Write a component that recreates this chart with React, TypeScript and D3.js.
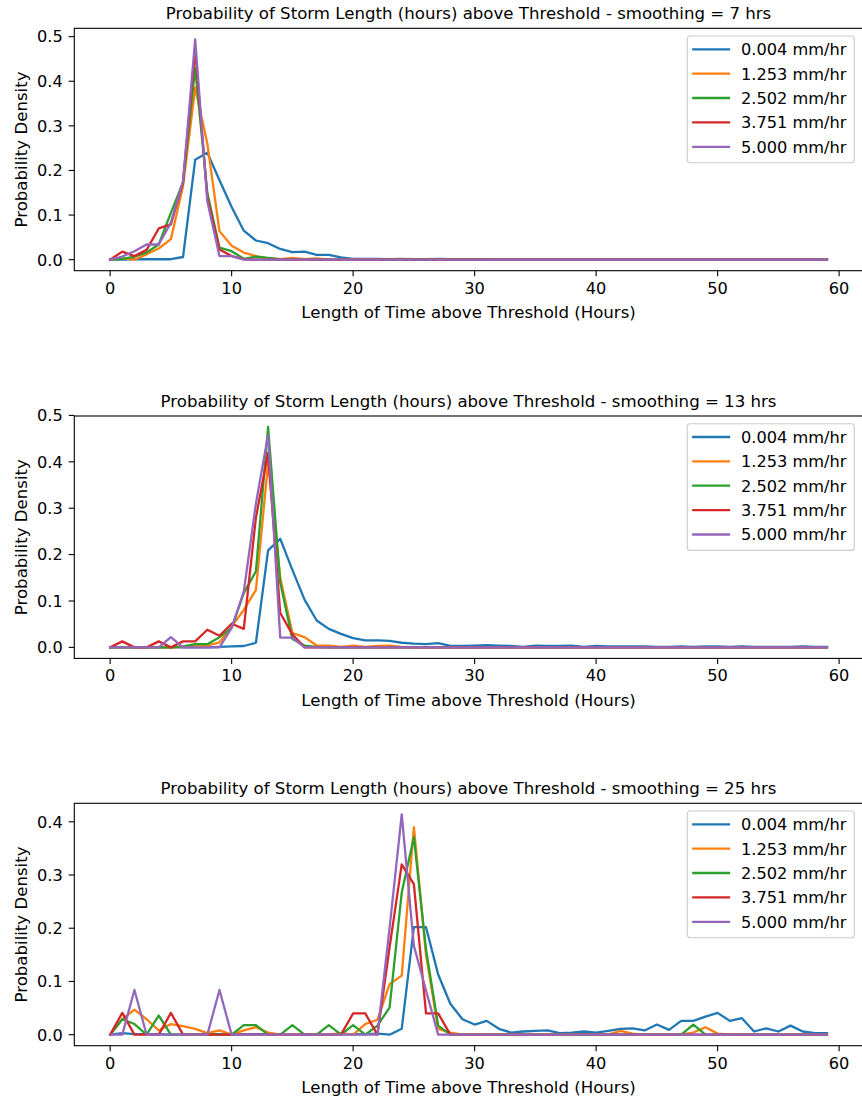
import React from 'react';
import * as d3 from 'd3';

// ---------- data ----------
const hours = d3.range(0, 60);
const thresholdLabels = ['0.004 mm/hr', '1.253 mm/hr', '2.502 mm/hr', '3.751 mm/hr', '5.000 mm/hr'];
const seriesColors = ['#1f77b4', '#ff7f0e', '#2ca02c', '#d62728', '#9467bd'];
const smoothingHours = [7, 13, 25];
const xTicks = [0, 10, 20, 30, 40, 50, 60];
const yTicksA = [0, 0.1, 0.2, 0.3, 0.4, 0.5];
const yTicksB = [0, 0.1, 0.2, 0.3, 0.4, 0.5];
const yTicksC = [0, 0.1, 0.2, 0.3, 0.4];

// smoothing = 7 hrs
const s7_004 = [
  0, 0, 0.001, 0.001, 0.001, 0.001, 0.006, 0.224, 0.24, 0.178,
  0.118, 0.065, 0.043, 0.037, 0.024, 0.017, 0.018, 0.011, 0.011, 0.005,
  0.002, 0.002, 0.002, 0.001, 0.002, 0.001, 0.001, 0.002, 0.001, 0.001,
  0.001, 0.001, 0, 0, 0, 0, 0, 0, 0, 0,
  0, 0, 0, 0, 0, 0, 0, 0, 0, 0,
  0, 0, 0, 0, 0, 0, 0, 0, 0, 0,
];
const s7_1253 = [
  0, 0.003, 0, 0.012, 0.025, 0.046, 0.165, 0.386, 0.26, 0.064,
  0.031, 0.016, 0.008, 0.003, 0.001, 0.004, 0.001, 0.003, 0, 0,
  0, 0, 0, 0, 0, 0, 0, 0, 0, 0,
  0, 0, 0, 0, 0, 0, 0, 0, 0, 0,
  0, 0, 0, 0, 0, 0, 0, 0, 0, 0,
  0, 0, 0, 0, 0, 0, 0, 0, 0, 0,
];
const s7_2502 = [
  0, 0.002, 0.007, 0.016, 0.034, 0.105, 0.173, 0.43, 0.15, 0.027,
  0.019, 0.002, 0.007, 0.004, 0.001, 0, 0, 0, 0, 0,
  0, 0, 0, 0, 0, 0, 0, 0, 0, 0,
  0, 0, 0, 0, 0, 0, 0, 0, 0, 0,
  0, 0, 0, 0, 0, 0, 0, 0, 0, 0,
  0, 0, 0, 0, 0, 0, 0, 0, 0, 0,
];
const s7_3751 = [
  0, 0.018, 0.008, 0.022, 0.07, 0.079, 0.173, 0.47, 0.14, 0.023,
  0.008, 0.001, 0, 0, 0, 0, 0, 0, 0, 0,
  0, 0, 0, 0, 0, 0, 0, 0, 0, 0,
  0, 0, 0, 0, 0, 0, 0, 0, 0, 0,
  0, 0, 0, 0, 0, 0, 0, 0, 0, 0,
  0, 0, 0, 0, 0, 0, 0, 0, 0, 0,
];
const s7_5000 = [
  0, 0.007, 0.019, 0.034, 0.034, 0.083, 0.176, 0.494, 0.131, 0.008,
  0.008, 0, 0, 0, 0, 0, 0, 0, 0, 0,
  0, 0, 0, 0, 0, 0, 0, 0, 0, 0,
  0, 0, 0, 0, 0, 0, 0, 0, 0, 0,
  0, 0, 0, 0, 0, 0, 0, 0, 0, 0,
  0, 0, 0, 0, 0, 0, 0, 0, 0, 0,
];

// smoothing = 13 hrs
const s13_004 = [
  0, 0, 0, 0, 0, 0, 0, 0, 0, 0.001,
  0.002, 0.003, 0.01, 0.209, 0.234, 0.167, 0.103, 0.058, 0.04, 0.029,
  0.02, 0.015, 0.015, 0.014, 0.01, 0.008, 0.007, 0.009, 0.003, 0.003,
  0.004, 0.005, 0.004, 0.003, 0.001, 0.004, 0.003, 0.003, 0.004, 0.001,
  0.003, 0.002, 0.002, 0.002, 0.002, 0.001, 0.001, 0.002, 0.001, 0.002,
  0.002, 0.001, 0.002, 0.001, 0.001, 0.001, 0.001, 0.002, 0.001, 0.001,
];
const s13_1253 = [
  0, 0, 0, 0, 0, 0, 0.001, 0.003, 0.004, 0.011,
  0.045, 0.081, 0.124, 0.397, 0.15, 0.031, 0.022, 0.004, 0.004, 0.001,
  0.004, 0.001, 0.003, 0.004, 0.001, 0, 0, 0, 0, 0,
  0, 0, 0, 0, 0, 0, 0, 0, 0, 0,
  0, 0, 0, 0, 0, 0, 0, 0, 0, 0,
  0, 0, 0, 0, 0, 0, 0, 0, 0, 0,
];
const s13_2502 = [
  0, 0, 0, 0, 0, 0, 0.002, 0.007, 0.007, 0.022,
  0.042, 0.117, 0.164, 0.475, 0.14, 0.018, 0.004, 0.001, 0, 0,
  0, 0, 0, 0, 0, 0, 0, 0, 0, 0,
  0, 0, 0, 0, 0, 0, 0, 0, 0, 0,
  0, 0, 0, 0, 0, 0, 0, 0, 0, 0,
  0, 0, 0, 0, 0, 0, 0, 0, 0, 0,
];
const s13_3751 = [
  0, 0.013, 0, 0, 0.013, 0, 0.013, 0.013, 0.038, 0.025,
  0.051, 0.04, 0.28, 0.419, 0.074, 0.028, 0, 0, 0, 0,
  0, 0, 0, 0, 0, 0, 0, 0, 0, 0,
  0, 0, 0, 0, 0, 0, 0, 0, 0, 0,
  0, 0, 0, 0, 0, 0, 0, 0, 0, 0,
  0, 0, 0, 0, 0, 0, 0, 0, 0, 0,
];
const s13_5000 = [
  0, 0, 0, 0, 0, 0.022, 0, 0, 0, 0,
  0.042, 0.12, 0.31, 0.458, 0.021, 0.021, 0, 0, 0, 0,
  0, 0, 0, 0, 0, 0, 0, 0, 0, 0,
  0, 0, 0, 0, 0, 0, 0, 0, 0, 0,
  0, 0, 0, 0, 0, 0, 0, 0, 0, 0,
  0, 0, 0, 0, 0, 0, 0, 0, 0, 0,
];

// smoothing = 25 hrs
const s25_004 = [
  0, 0.003, 0.001, 0.001, 0.001, 0, 0, 0.001, 0.001, 0.001,
  0, 0.001, 0.001, 0.001, 0, 0, 0.001, 0, 0, 0.001,
  0.001, 0.001, 0.002, 0, 0.011, 0.202, 0.202, 0.113, 0.058, 0.029,
  0.019, 0.026, 0.011, 0.004, 0.006, 0.007, 0.008, 0.003, 0.004, 0.006,
  0.004, 0.007, 0.011, 0.012, 0.008, 0.019, 0.009, 0.026, 0.026, 0.034,
  0.041, 0.026, 0.031, 0.006, 0.012, 0.006, 0.017, 0.006, 0.003, 0.003,
];
const s25_1253 = [
  0, 0.029, 0.047, 0.029, 0.008, 0.02, 0.016, 0.011, 0.003, 0.008,
  0, 0.008, 0.014, 0.004, 0, 0, 0, 0, 0, 0.003,
  0, 0.02, 0.028, 0.095, 0.111, 0.39, 0.15, 0.011, 0.004, 0,
  0, 0, 0, 0, 0, 0, 0, 0, 0, 0,
  0, 0, 0.007, 0.002, 0, 0, 0, 0, 0.004, 0.014,
  0.002, 0, 0, 0, 0, 0, 0, 0, 0, 0,
];
const s25_2502 = [
  0, 0.029, 0.02, 0, 0.036, 0, 0, 0, 0, 0,
  0, 0.018, 0.018, 0, 0, 0.018, 0, 0, 0.018, 0,
  0.018, 0, 0.017, 0.051, 0.267, 0.371, 0.16, 0.017, 0, 0,
  0, 0, 0, 0, 0, 0, 0, 0, 0, 0,
  0, 0, 0, 0, 0, 0, 0, 0, 0.019, 0,
  0, 0, 0, 0, 0, 0, 0, 0, 0, 0,
];
const s25_3751 = [
  0, 0.041, 0, 0, 0, 0.041, 0, 0, 0, 0,
  0, 0, 0, 0, 0, 0, 0, 0, 0, 0,
  0.04, 0.04, 0, 0.164, 0.32, 0.283, 0.04, 0.04, 0, 0,
  0, 0, 0, 0, 0, 0, 0, 0, 0, 0,
  0, 0, 0, 0, 0, 0, 0, 0, 0, 0,
  0, 0, 0, 0, 0, 0, 0, 0, 0, 0,
];
const s25_5000 = [
  0, 0, 0.084, 0, 0, 0, 0, 0, 0, 0.084,
  0, 0, 0, 0, 0, 0, 0, 0, 0, 0,
  0, 0, 0, 0.2, 0.414, 0.167, 0.083, 0, 0, 0,
  0, 0, 0, 0, 0, 0, 0, 0, 0, 0,
  0, 0, 0, 0, 0, 0, 0, 0, 0, 0,
  0, 0, 0, 0, 0, 0, 0, 0, 0, 0,
];

const panelSeries = [
  [s7_004, s7_1253, s7_2502, s7_3751, s7_5000],
  [s13_004, s13_1253, s13_2502, s13_3751, s13_5000],
  [s25_004, s25_1253, s25_2502, s25_3751, s25_5000],
];
const panelYTicks = [yTicksA, yTicksB, yTicksC];

// ---------- layout ----------
const W = 862;
const H = 1101;
const plotLeft = 74.3;
const plotRight = 862.8;
const panelTops = [28.3, 416, 803.3];
const panelH = 242.4;
const FONT = '"DejaVu Sans", sans-serif';
const FS = 16.2;
const FS_LAB = 16.6;
const TICK = 5.6;
const AX = '#000';

function Panel({ top, series, smoothing, yTicks }: any) {
  const bottom = top + panelH;
  const x = d3.scaleLinear().domain([-2.95, 61.95]).range([plotLeft, plotRight]);
  const maxV = d3.max(series as number[][], (s: number[]) => d3.max(s)) as number;
  const y = d3.scaleLinear().domain([-0.05 * maxV, 1.05 * maxV]).range([bottom, top]);
  const line = d3
    .line<number>()
    .x((_, i) => x(hours[i]))
    .y((v) => y(v));
  const midX = (plotLeft + plotRight) / 2;
  const legX = 687.3;
  const legY = top + 7.7;
  const legW = 167;
  const legH = 126.7;
  const rowY = [13.3, 37.7, 62, 86.4, 110.8];
  return (
    <g>
      <text x={midX} y={top - 9.5} textAnchor="middle" fontSize={FS_LAB} fontFamily={FONT} fill="#000">
        {`Probability of Storm Length (hours) above Threshold - smoothing = ${smoothing} hrs`}
      </text>
      {series.map((s: number[], k: number) => (
        <path
          key={k}
          d={line(s) as string}
          fill="none"
          stroke={seriesColors[k]}
          strokeWidth={2.3}
          strokeLinejoin="round"
          strokeLinecap="square"
        />
      ))}
      {/* spines */}
      <rect
        x={plotLeft}
        y={top}
        width={plotRight - plotLeft}
        height={panelH}
        fill="none"
        stroke={AX}
        strokeWidth={1.1}
      />
      {/* x ticks */}
      {xTicks.map((t) => (
        <g key={t}>
          <line x1={x(t)} x2={x(t)} y1={bottom} y2={bottom + TICK} stroke={AX} strokeWidth={1.1} />
          <text x={x(t)} y={bottom + 23} textAnchor="middle" fontSize={FS} fontFamily={FONT} fill="#000">
            {t}
          </text>
        </g>
      ))}
      {/* y ticks */}
      {yTicks.map((t: number) => (
        <g key={t}>
          <line x1={plotLeft - TICK} x2={plotLeft} y1={y(t)} y2={y(t)} stroke={AX} strokeWidth={1.1} />
          <text
            x={plotLeft - 11.5}
            y={y(t)}
            dy="0.36em"
            textAnchor="end"
            fontSize={FS}
            fontFamily={FONT}
            fill="#000"
          >
            {d3.format('.1f')(t)}
          </text>
        </g>
      ))}
      <text x={midX} y={bottom + 47.5} textAnchor="middle" fontSize={FS_LAB} fontFamily={FONT} fill="#000">
        Length of Time above Threshold (Hours)
      </text>
      <text
        transform={`translate(27,${(top + bottom) / 2}) rotate(-90)`}
        textAnchor="middle"
        fontSize={FS_LAB}
        fontFamily={FONT}
        fill="#000"
      >
        Probability Density
      </text>
      {/* legend */}
      <rect
        x={legX}
        y={legY}
        width={legW}
        height={legH}
        rx={3}
        ry={3}
        fill="#fff"
        fillOpacity={0.8}
        stroke="#cccccc"
        strokeWidth={1.1}
      />
      {thresholdLabels.map((lab, k) => (
        <g key={lab}>
          <line
            x1={legX + 6}
            x2={legX + 41.7}
            y1={legY + rowY[k]}
            y2={legY + rowY[k]}
            stroke={seriesColors[k]}
            strokeWidth={2.3}
            strokeLinecap="square"
          />
          <text x={legX + 53.7} y={legY + rowY[k]} dy="0.36em" fontSize={FS} fontFamily={FONT} fill="#000">
            {lab}
          </text>
        </g>
      ))}
    </g>
  );
}

export default function App() {
  return (
    <svg
      width={W}
      height={H}
      viewBox={`0 0 ${W} ${H}`}
      style={{ position: 'absolute', left: 0, top: 0, background: '#fff' }}
    >
      <rect x={0} y={0} width={W} height={H} fill="#fff" />
      {panelTops.map((top, p) => (
        <Panel
          key={p}
          top={top}
          series={panelSeries[p]}
          smoothing={smoothingHours[p]}
          yTicks={panelYTicks[p]}
        />
      ))}
    </svg>
  );
}
